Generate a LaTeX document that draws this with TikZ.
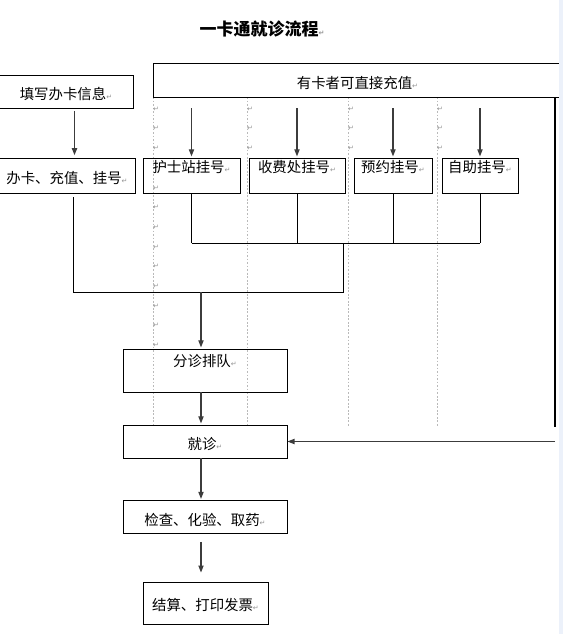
\documentclass[tikz,border=0pt]{standalone}
\usepackage{fontspec}
\usepackage{xcolor}
\usetikzlibrary{arrows.meta,calc}
\newfontfamily\cjk{Noto Sans CJK SC}
\newfontfamily\markfont{DejaVu Sans}
\definecolor{stripblue}{RGB}{236,241,250}
\definecolor{arrowgray}{RGB}{60,60,60}
\newcommand{\retmark}{{\markfont\fontsize{6}{6}\selectfont\color{gray!85}↵}}

\begin{document}
\begin{tikzpicture}[x=0.03cm, y=-0.03cm,
    box/.style={draw, line width=0.8pt, inner sep=0pt, text height=0.56cm, text depth=0.06cm, font=\cjk\fontsize{12.3}{14}\selectfont},
    regbox/.style={box, minimum height=1.05cm, text height=0.38cm, text depth=0.56cm},
    flow/.style={->, draw=arrowgray, line width=0.9pt},
    link/.style={draw, line width=0.8pt},
    grid/.style={draw=gray!55, line width=0.4pt, dash pattern=on 1.5pt off 1.5pt},
    >={Triangle[length=6pt,width=4.5pt]}]
    \useasboundingbox (0,0) rectangle (563,634);

    % table grid left in the background
    \foreach \x in {153,247,348,437}
        \draw[grid] (\x,97) -- (\x,427);
    \foreach \k in {0,1,2,4,5,6,7,8,9,10,11,12}
        \node[inner sep=0pt] (gm\k) at (156,{109+19.7*\k}) {\retmark};
    \foreach \x [count=\c] in {250,351,440}
        \foreach \k in {0,1,2}
            \node[inner sep=0pt] (cm\c\k) at (\x,{109+19.7*\k}) {\retmark};

    \node[font=\cjk\bfseries\fontsize{14.5}{16}\selectfont] (title) at (262,29) {一卡通就诊流程\retmark};

    \node[box, minimum width=4.02cm, minimum height=0.99cm] (fill) at (66,91.5) {填写办卡信息\retmark};
    \node[box, minimum width=4.08cm, minimum height=1.05cm] (issue) at (67,175.5) {办卡、充值、挂号\retmark};
    \node[box, minimum width=12.27cm, minimum height=1.02cm] (topup) at (357.5,80) {有卡者可直接充值\retmark};

    \node[regbox, minimum width=2.91cm] (nurse) at (191.5,175.5) {护士站挂号\retmark};
    \node[regbox, minimum width=2.88cm] (cashier) at (297,175.5) {收费处挂号\retmark};
    \node[regbox, minimum width=2.34cm] (booking) at (393,175.5) {预约挂号\retmark};
    \node[regbox, minimum width=2.28cm] (self) at (480,175.5) {自助挂号\retmark};

    \node[box, minimum width=4.92cm, minimum height=1.29cm, text height=0.38cm, text depth=0.64cm] (triage) at (205,370.5) {分诊排队\retmark};
    \node[box, minimum width=4.92cm, minimum height=0.99cm] (visit) at (205,441.5) {就诊\retmark};
    \node[box, minimum width=4.92cm, minimum height=0.99cm] (exam) at (205,517) {检查、化验、取药\retmark};
    \node[box, minimum width=3.75cm, minimum height=1.26cm, text height=0.5cm] (bill) at (205.5,603) {结算、打印发票\retmark};

    \coordinate (axis) at (201,0);
    \coordinate (busR) at (343,243);
    \coordinate (busL) at (73,292);
    \coordinate (side) at (555,427);

    \draw[flow, shorten <=2pt, shorten >=2pt] ([xshift=0.255cm]fill.south) -- ([xshift=0.255cm]fill.south |- issue.north);
    \foreach \n in {nurse,cashier,booking,self}
        \draw[flow, shorten <=0.33cm, shorten >=1pt] (\n.north |- topup.south) -- (\n.north);

    \foreach \n in {nurse,cashier,booking,self}
        \draw[link] (\n.south) -- (\n.south |- busR);
    \draw[link] (nurse.south |- busR) -- (self.south |- busR);
    \draw[link] (busR) -- (busR |- busL) -- (busL) -- ([yshift=-0.12cm]busL |- issue.south);

    \draw[flow, shorten >=1pt] (axis |- busL) -- (axis |- triage.north);
    \draw[flow, shorten >=1pt] (axis |- triage.south) -- (axis |- visit.north);
    \draw[flow, shorten >=1pt] (axis |- visit.south) -- (axis |- exam.north);
    \draw[flow, shorten <=0.24cm, shorten >=0.27cm] (axis |- exam.south) -- (axis |- bill.north);

    \draw[link, line width=1pt] (topup.south -| side) -- (side);
    \draw[flow] (visit.east -| side) -- (visit.east);

    \fill[stripblue] (559,0) rectangle (563,634);
\end{tikzpicture}
\end{document}
